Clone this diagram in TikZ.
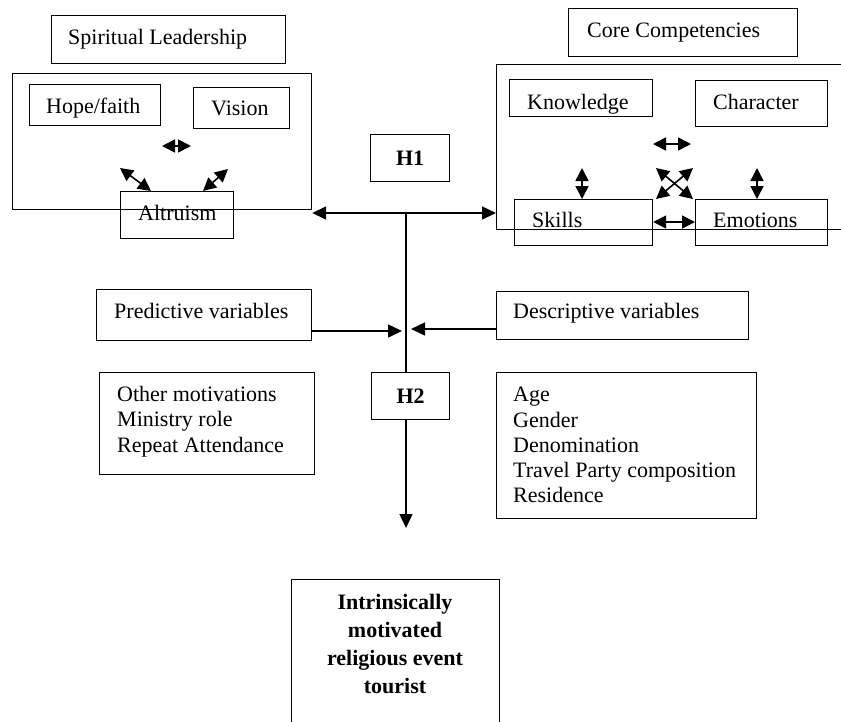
\documentclass[tikz,border=0pt]{standalone}
\usepackage{fontspec}
\setmainfont{Liberation Serif}
\usetikzlibrary{arrows.meta}
\begin{document}
\begin{tikzpicture}[x=1pt,y=-1pt,
  box/.style={draw, line width=1.2pt, inner sep=0pt, anchor=north west},
  txt/.style={inner sep=0pt, anchor=base west, font=\fontsize{22}{25.3}\selectfont},
  mtxt/.style={inner sep=0pt, anchor=north west, align=left, font=\fontsize{22}{25.3}\selectfont},
  htxt/.style={inner sep=0pt, font=\bfseries\fontsize{22}{25.3}\selectfont},
  arr/.style={line width=1.5pt, -{Triangle[length=14pt,width=13pt]}},
  darr/.style={line width=1.5pt, {Triangle[length=14pt,width=13pt]}-{Triangle[length=14pt,width=13pt]}},
  sarr/.style={line width=1.6pt, {Triangle[length=13pt,width=13pt]}-{Triangle[length=13pt,width=13pt]}}]
\useasboundingbox (0,0) rectangle (841,721);
\clip (0,0) rectangle (841,721);
% boxes
\node[box, minimum width=234pt, minimum height=48pt] (sl) at (51,15) {};
\node[box, minimum width=299pt, minimum height=136pt] (lb) at (12,73) {};
\node[box, minimum width=131pt, minimum height=41pt] (hf) at (29,84) {};
\node[box, minimum width=96pt, minimum height=41pt] (vi) at (193,87) {};
\node[box, minimum width=113pt, minimum height=47pt] (al) at (120,191) {};
\node[box, minimum width=229pt, minimum height=48pt] (cc) at (568,8) {};
\node[box, minimum width=400pt, minimum height=165pt] (rb) at (496,64) {};
\node[box, minimum width=143pt, minimum height=37pt] (kn) at (509,79) {};
\node[box, minimum width=132pt, minimum height=46pt] (ch) at (695,80) {};
\node[box, minimum width=138pt, minimum height=46pt] (sk) at (514,199) {};
\node[box, minimum width=132pt, minimum height=46pt] (em) at (695,199) {};
\node[box, minimum width=79pt, minimum height=47pt] (h1) at (370,134) {};
\node[box, minimum width=215pt, minimum height=51pt] (pv) at (96,289) {};
\node[box, minimum width=252pt, minimum height=48pt] (dv) at (496,291) {};
\node[box, minimum width=215pt, minimum height=102pt] (om) at (99,372) {};
\node[box, minimum width=78pt, minimum height=47pt] (h2) at (371,372) {};
\node[box, minimum width=260pt, minimum height=146pt] (ag) at (496,372) {};
\node[box, minimum width=208pt, minimum height=170pt] (it) at (291,579) {};
% texts
\node[txt] (tsl) at (68,44) {Spiritual Leadership};
\node[txt] (thf) at (46,113) {Hope/faith};
\node[txt] (tvi) at (211,115) {Vision};
\node[txt] (tal) at (138,220) {Altruism};
\node[txt] (tcc) at (587,37) {Core Competencies};
\node[txt] (tkn) at (527,109) {Knowledge};
\node[txt] (tch) at (713,109) {Character};
\node[txt] (tsk) at (532,227) {Skills};
\node[txt] (tem) at (713,227) {Emotions};
\node[txt] (tpv) at (114,318) {Predictive variables};
\node[txt] (tdv) at (513,318) {Descriptive variables};
\node[htxt] (th1) at (h1.center) {H1};
\node[htxt] (th2) at (h2.center) {H2};
\node[mtxt] (tom) at (117,386) {Other motivations\\Ministry role\\Repeat Attendance};
\node[mtxt] (tag) at (513,387) {Age\\Gender\\Denomination\\Travel Party composition\\Residence};
\node[inner sep=0pt, anchor=north, align=center, font=\bfseries\fontsize{22}{28}\selectfont] (tit) at (395,594) {Intrinsically\\motivated\\religious event\\tourist};
% coordinates
\coordinate (j1) at (406,213);
\coordinate (tip) at (406,528);
\coordinate (pj) at (402,331);
\coordinate (dj) at (411,329);
% main connectors
\draw[darr] (j1 -| lb.east) -- (j1 -| rb.west);
\draw[line width=1.5pt] (j1) -- (j1 |- h2.north);
\draw[arr] (tip |- h2.south) -- (tip);
\draw[arr] (pj -| pv.east) -- (pj);
\draw[arr] (dj -| dv.west) -- (dj);
% left cluster small arrows
\coordinate (a1) at (162,146); \coordinate (a2) at (191,146);
\draw[sarr] (a1) -- (a2);
\coordinate (a3) at (120,168); \coordinate (a4) at (151,191);
\draw[sarr] (a3) -- (a4);
\coordinate (a5) at (228,169); \coordinate (a6) at (203,191);
\draw[sarr] (a5) -- (a6);
% right cluster small arrows
\coordinate (b1) at (653,144); \coordinate (b2) at (691,144);
\draw[sarr] (b1) -- (b2);
\coordinate (b3) at (582,168);
\draw[sarr] (b3) -- (b3 |- sk.north);
\coordinate (b4) at (757,168);
\draw[sarr] (b4) -- (b4 |- em.north);
\coordinate (c1) at (656,168); \coordinate (c2) at (693,199);
\coordinate (c3) at (693,168); \coordinate (c4) at (656,199);
\draw[sarr] (c1) -- (c2);
\draw[sarr] (c3) -- (c4);
\coordinate (b5) at (652,222);
\draw[sarr] (b5 -| sk.east) -- (b5 -| em.west);
\end{tikzpicture}
\end{document}
